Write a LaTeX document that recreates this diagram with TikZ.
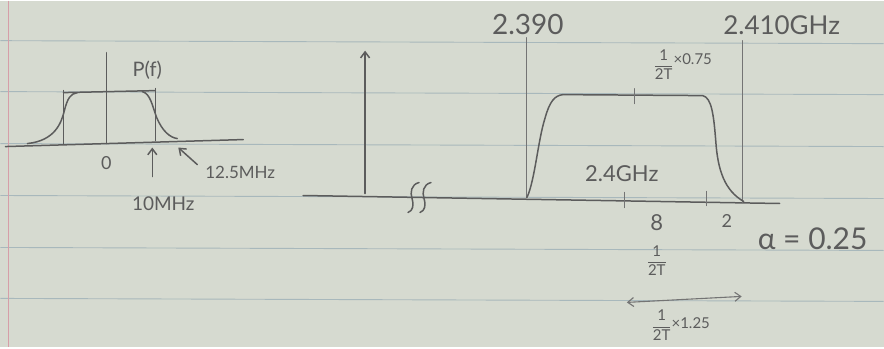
\documentclass[tikz,border=0pt]{standalone}
\usepackage{amsmath}
\usepackage{fontspec}
\setmainfont{Lato}
\usetikzlibrary{arrows.meta}
\definecolor{paper}{RGB}{214,218,208}
\definecolor{ruleblue}{RGB}{168,184,188}
\definecolor{marginred}{RGB}{214,158,168}
\definecolor{pencil}{RGB}{92,92,92}
\newcommand{\halfT}{\ensuremath{\dfrac{\text{1}}{\text{2T}}}}
\begin{document}
\begin{tikzpicture}[
  x=1pt, y=-1pt,
  >={Straight Barb[length=6pt,width=9pt]},
  psdpaper/.style = {fill=paper},
  psdrule/.style = {draw=ruleblue, line width=0.9pt},
  psdmargin/.style = {draw=marginred, line width=1.4pt},
  psdpen/.style = {draw=pencil, line width=1.5pt, line cap=round, line join=round},
  psdthin/.style = {draw=pencil!85, line width=1.1pt, line cap=round},
  psdlbl/.style = {text=pencil, inner sep=0pt, font=\fontsize{#1}{#1}\selectfont},
  psdlbl/.default = 18
]
  % paper
  \fill[psdpaper] (0,0) rectangle (884,347);
  \foreach \y in {40,91,143,195,247,298}
    \draw[psdrule] (0,\y) -- (884,\y+3);
  \draw[psdmargin] (8,0) -- (8,347);

  % baseband spectrum
  \draw[psdpen] (5,146) -- (243,139);
  \draw[psdpen] (106,52) -- (106,143);
  \draw[psdpen] (63,143) -- (63,90) (155,140) -- (155,88);
  \draw[psdpen] (63,92) -- (155,90);
  \draw[psdpen] (27,143) .. controls (55,140) and (61,122) .. (64,110)
    .. controls (67,98) and (70,93) .. (77,92);
  \draw[psdpen] (142,91) .. controls (150,93) and (152,105) .. (156,116)
    .. controls (162,131) and (170,137) .. (177,138);
  \node[psdlbl=20] (pf) at (147,70) {P(f)};
  \node[psdlbl=18] (zero) at (106,163) {0};
  \node[psdlbl=19] (ten) at (163,203) {10MHz};
  \node[psdlbl=17] (twelve) at (240,172) {12.5MHz};
  \coordinate (tenfrom) at (152,176);
  \coordinate (tento) at (152,147);
  \coordinate (twfrom) at (197,164);
  \coordinate (twto) at (178,147);
  \draw[psdpen, ->] (tenfrom) -- (tento);
  \draw[psdpen, ->] (twfrom) -- (twto);

  % passband spectrum
  \draw[psdpen] (303,195) -- (780,203);
  \draw[psdpen, ->] (365,193) -- (365,50);
  \foreach \dx in {0,12}
    \draw[psdpen] (419+\dx,182) .. controls (411+\dx,184) and (410+\dx,192) .. (412+\dx,198)
      .. controls (414+\dx,205) and (413+\dx,210) .. (408+\dx,212);
  \draw[psdthin] (527,37) -- (527,197);
  \draw[psdthin] (743,40) -- (743,202);
  \draw[psdpen] (527,197) .. controls (535,180) and (538,140) .. (545,118)
    .. controls (550,100) and (555,95) .. (563,94) -- (703,95)
    .. controls (712,97) and (714,115) .. (716,140)
    .. controls (718,170) and (725,190) .. (744,201);
  \draw[psdthin] (635,88) -- (635,103);
  \draw[psdthin] (625,192) -- (625,207);
  \draw[psdthin] (707,191) -- (707,205);
  \node[psdlbl=28] (flo) at (528,24) {2.390};
  \node[psdlbl=26] (fhi) at (782,25) {2.410GHz};
  \node[psdlbl=15] (rolltop) at (683,64) {\halfT\raisebox{5pt}{×0.75}};
  \node[psdlbl=22] (fc) at (622,173) {2.4GHz};
  \node[psdlbl=22] (eight) at (657,222) {8};
  \node[psdlbl=18] (two) at (727,221) {2};
  \node[psdlbl=15] (nyq) at (657,260) {\halfT};
  \node[psdlbl=30] (alpha) at (813,238) {α = 0.25};
  \node[psdlbl=15] (rollbot) at (681,325) {\halfT\raisebox{2pt}{×1.25}};
  \coordinate (bwl) at (627,302);
  \coordinate (bwr) at (742,296);
  \draw[psdthin, <->] (bwl) -- (bwr);
\end{tikzpicture}
\end{document}
